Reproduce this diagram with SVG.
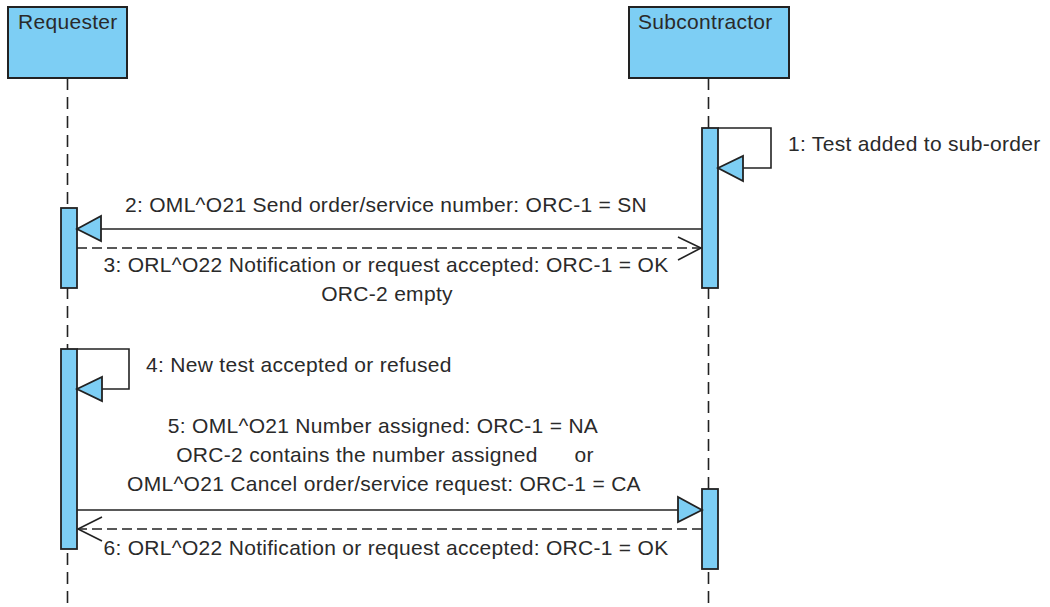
<svg xmlns="http://www.w3.org/2000/svg" width="1050" height="607" viewBox="0 0 1050 607">
<style>
.box{fill:#7DCEF4;stroke:#222;stroke-width:2}
.bar{fill:#7DCEF4;stroke:#222;stroke-width:1.8}
.life{stroke:#222;stroke-width:1.6;stroke-dasharray:12 7;fill:none}
.msg{stroke:#222;stroke-width:1.6;fill:none}
.ret{stroke:#222;stroke-width:1.6;fill:none;stroke-dasharray:10 5}
.head{fill:#7DCEF4;stroke:#222;stroke-width:1.8}
.open{fill:none;stroke:#222;stroke-width:1.6}
text{font-family:"Liberation Sans",Arial,sans-serif;font-size:21px;letter-spacing:0.3px;fill:#2a2a2a}
.c{text-anchor:middle}
</style>
<rect width="1050" height="607" fill="#fff"/>
<g id="requester">
<line class="life" x1="67.5" y1="78" x2="67.5" y2="607"/>
<rect class="box" x="8" y="7" width="119" height="71"/>
<text x="18" y="29">Requester</text>
</g>
<g id="subcontractor">
<line class="life" x1="708.5" y1="78" x2="708.5" y2="607"/>
<rect class="box" x="629" y="7" width="160" height="71"/>
<text x="638" y="29">Subcontractor</text>
</g>
<g id="activations">
<rect class="bar" x="61" y="208" width="16" height="80"/>
<rect class="bar" x="61" y="349" width="16" height="200"/>
<rect class="bar" x="702" y="128" width="16" height="160"/>
<rect class="bar" x="702" y="489" width="16" height="80"/>
</g>
<g id="connectors">
<path class="msg" d="M718 128H771V168H743"/>
<polygon class="head" points="718,168 743,156 743,181"/>
<line class="msg" x1="702" y1="229" x2="101" y2="229"/>
<polygon class="head" points="77,229 101,216 101,241"/>
<line class="ret" x1="77" y1="248" x2="701" y2="248"/>
<polyline class="open" points="678,237 701,248 678,260"/>
<path class="msg" d="M77 349H129V389H102"/>
<polygon class="head" points="77,389 102,377 102,401"/>
<line class="msg" x1="77" y1="510" x2="678" y2="510"/>
<polygon class="head" points="702,510 678,497 678,522"/>
<line class="ret" x1="702" y1="529" x2="78" y2="529"/>
<polyline class="open" points="102,517 78,529 102,541"/>
</g>
<g id="labels">
<text x="788" y="151">1: Test added to sub-order</text>
<text class="c" x="386" y="212">2: OML^O21 Send order/service number: ORC-1 = SN</text>
<text class="c" x="386" y="272">3: ORL^O22 Notification or request accepted: ORC-1 = OK</text>
<text class="c" x="387" y="301">ORC-2 empty</text>
<text x="146" y="372">4: New test accepted or refused</text>
<text class="c" x="383" y="433">5: OML^O21 Number assigned: ORC-1 = NA</text>
<text class="c" x="385" y="462" xml:space="preserve">ORC-2 contains the number assigned      or</text>
<text class="c" x="384" y="491">OML^O21 Cancel order/service request: ORC-1 = CA</text>
<text class="c" x="386" y="555">6: ORL^O22 Notification or request accepted: ORC-1 = OK</text>
</g>
</svg>
